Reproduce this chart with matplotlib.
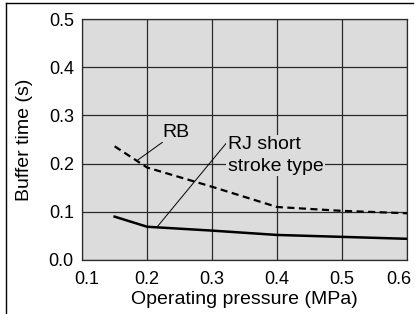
import matplotlib
matplotlib.use("Agg")
import matplotlib.pyplot as plt
import matplotlib.transforms as mtransforms
from matplotlib.lines import Line2D

plt.rcParams['font.family'] = 'Liberation Sans'
plt.rcParams['font.size'] = 14

# Buffer time vs operating pressure
rb_pressure = [0.15, 0.2, 0.3, 0.4, 0.5, 0.6]
rb_time = [0.236, 0.192, 0.152, 0.110, 0.102, 0.097]
rj_pressure = [0.15, 0.2, 0.3, 0.4, 0.5, 0.6]
rj_time = [0.090, 0.069, 0.061, 0.052, 0.048, 0.044]

x_ticks = [0.1, 0.2, 0.3, 0.4, 0.5, 0.6]
y_ticks = [0.0, 0.1, 0.2, 0.3, 0.4, 0.5]

fig = plt.figure(figsize=(4.17, 3.14), dpi=100)
ax = fig.add_axes([0.197, 0.172, 0.779, 0.767])
ax.set_facecolor('#dcdcdc')

ax.plot(rb_pressure, rb_time, color='black', linewidth=1.6,
        linestyle=(0, (3.2, 2.0)), zorder=3)
ax.plot(rj_pressure, rj_time, color='black', linewidth=1.8, zorder=3)

ax.set_xlim(0.1, 0.6)
ax.set_ylim(0.0, 0.5)
ax.set_xticks(x_ticks)
ax.set_yticks(y_ticks)
ax.set_xticklabels([f'{v:.1f}' for v in x_ticks])
ax.set_yticklabels([f'{v:.1f}' for v in y_ticks])
ax.tick_params(length=0, pad=6, labelsize=13)
ax.tick_params(axis='x', pad=8)
ax.grid(True, color='#2a2a2a', linewidth=0.9)
ax.set_axisbelow(True)
for s in ax.spines.values():
    s.set_color('#2a2a2a')
    s.set_linewidth(0.9)

# end labels sit a little inward in the original
xlabels = ax.get_xticklabels()
xlabels[0].set_transform(xlabels[0].get_transform() +
                         mtransforms.ScaledTranslation(5 / 100, 0, fig.dpi_scale_trans))
xlabels[-1].set_transform(xlabels[-1].get_transform() +
                          mtransforms.ScaledTranslation(-8 / 100, 0, fig.dpi_scale_trans))

ax.set_xlabel('Operating pressure (MPa)', fontsize=14, labelpad=2)
ax.set_ylabel('Buffer time (s)', fontsize=14, labelpad=11)

# Leader annotations
box = dict(facecolor='#dcdcdc', edgecolor='none', pad=1.0)
ax.annotate('RB', xy=(0.185, 0.207), xytext=(0.224, 0.265),
            fontsize=14, ha='left', va='center', bbox=box,
            arrowprops=dict(arrowstyle='-', lw=0.7, color='black',
                            shrinkA=0, shrinkB=0), zorder=4)
ax.annotate('RJ short\nstroke type', xy=(0.215, 0.068), xytext=(0.324, 0.217),
            fontsize=14, ha='left', va='center', bbox=box, linespacing=1.38,
            arrowprops=dict(arrowstyle='-', lw=0.7, color='black',
                            shrinkA=0, shrinkB=0,
                            relpos=(0.0, 0.86)), zorder=4)

# Outer frame (top and left)
fig.add_artist(Line2D([0.014, 0.99], [0.99, 0.99], color='black', lw=1.0,
                      transform=fig.transFigure))
fig.add_artist(Line2D([0.014, 0.014], [0.0, 0.99], color='black', lw=1.0,
                      transform=fig.transFigure))

fig.savefig('out.png', dpi=100)
